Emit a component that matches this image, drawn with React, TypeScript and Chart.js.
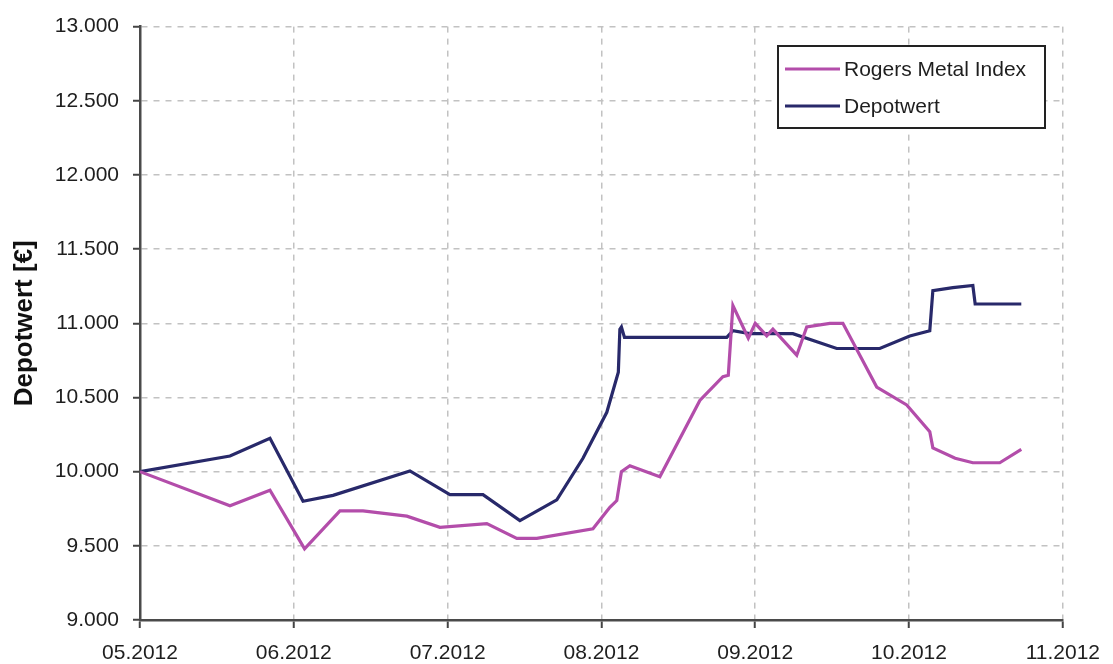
import React, { useEffect, useRef } from "react";
import { Chart, registerables } from "chart.js";

Chart.register(...registerables);

// x values are months elapsed since 05.2012
const xTickLabels = ["05.2012", "06.2012", "07.2012", "08.2012", "09.2012", "10.2012", "11.2012"];

const rogersX = [0, 0.585, 0.845, 1.07, 1.3, 1.45, 1.735, 1.95, 2.255, 2.45, 2.58, 2.945, 3.055, 3.1, 3.13, 3.185, 3.38, 3.64, 3.79, 3.825, 3.855, 3.955, 4.0, 4.075, 4.115, 4.27, 4.335, 4.485, 4.57, 4.79, 4.985, 5.135, 5.155, 5.3, 5.415, 5.59, 5.73];
const rogersY = [10000, 9770, 9875, 9480, 9735, 9735, 9700, 9625, 9650, 9550, 9550, 9615, 9760, 9805, 10000, 10040, 9965, 10480, 10640, 10650, 11120, 10900, 11000, 10915, 10960, 10785, 10975, 11000, 11000, 10570, 10450, 10270, 10160, 10090, 10060, 10060, 10150];

const depotX = [0, 0.585, 0.845, 1.06, 1.255, 1.755, 2.015, 2.23, 2.47, 2.71, 2.88, 3.035, 3.11, 3.12, 3.13, 3.15, 3.815, 3.855, 3.965, 4.245, 4.53, 4.81, 5.005, 5.135, 5.155, 5.285, 5.415, 5.43, 5.73];
const depotY = [10000, 10105, 10225, 9800, 9840, 10005, 9845, 9845, 9670, 9810, 10090, 10400, 10670, 10960, 10975, 10905, 10905, 10950, 10930, 10930, 10830, 10830, 10915, 10950, 11220, 11240, 11255, 11130, 11130];

const seriesNames = ["Rogers Metal Index", "Depotwert"];
const seriesColors = ["#b34daa", "#28296a"];
const yTitle = "Depotwert [€]";

const fmt = (v: number) => {
  const th = Math.floor(v / 1000);
  const rest = String(Math.round(v % 1000)).padStart(3, "0");
  return th + "." + rest;
};

const legendPlugin = {
  id: "boxLegend",
  afterDraw(chart: any) {
    const ctx = chart.ctx;
    ctx.save();
    const x0 = 778, y0 = 46, w = 267, h = 82;
    ctx.fillStyle = "#ffffff";
    ctx.fillRect(x0, y0, w, h);
    ctx.lineWidth = 2;
    ctx.strokeStyle = "#222";
    ctx.strokeRect(x0, y0, w, h);
    const rows = [69, 106];
    seriesNames.forEach((name, i) => {
      ctx.strokeStyle = seriesColors[i];
      ctx.lineWidth = 3;
      ctx.beginPath();
      ctx.moveTo(785, rows[i]);
      ctx.lineTo(840, rows[i]);
      ctx.stroke();
      ctx.fillStyle = "#1e1e1e";
      ctx.font = "21px 'Liberation Sans', Arial, sans-serif";
      ctx.textBaseline = "middle";
      ctx.textAlign = "left";
      ctx.fillText(name, 844, rows[i] + 1);
    });
    ctx.restore();
  },
};

export default function App() {
  const ref = useRef<HTMLCanvasElement>(null);
  useEffect(() => {
    if (!ref.current) return;
    const gridColor = "#c2c2c2";
    const chart = new Chart(ref.current, {
      type: "line",
      data: {
        datasets: [
          {
            label: seriesNames[0],
            data: rogersX.map((x, i) => ({ x, y: rogersY[i] })),
            borderColor: seriesColors[0],
            borderWidth: 3.2,
            pointRadius: 0,
            tension: 0,
          },
          {
            label: seriesNames[1],
            data: depotX.map((x, i) => ({ x, y: depotY[i] })),
            borderColor: seriesColors[1],
            borderWidth: 3.2,
            pointRadius: 0,
            tension: 0,
          },
        ],
      },
      options: {
        animation: false,
        responsive: false,
        layout: { padding: { top: 23, right: 49, left: 0, bottom: 0 } },
        plugins: { legend: { display: false }, tooltip: { enabled: false } },
        scales: {
          x: {
            type: "linear",
            min: 0,
            max: 6,
            afterFit: (s: any) => { s.height = 44; },
            afterBuildTicks: (s: any) => {
              s.ticks = xTickLabels.map((_, i) => ({ value: i }));
            },
            ticks: {
              callback: (v: any) => xTickLabels[Math.round(v)] ?? "",
              font: { family: "'Liberation Sans', Arial, sans-serif", size: 21 },
              color: "#1e1e1e",
              padding: 13,
              maxRotation: 0,
              autoSkip: false,
            },
            grid: {
              color: gridColor,
              lineWidth: 1.5,
              tickColor: "#444",
              tickWidth: 2,
              tickLength: 8,
            },
            border: { display: true, color: "#4a4a4a", width: 2.5, dash: [6, 6] },
          },
          y: {
            type: "linear",
            min: 9000,
            max: 13000,
            afterFit: (s: any) => { s.width = 140; },
            ticks: {
              stepSize: 500,
              callback: (v: any) => fmt(Number(v)),
              font: { family: "'Liberation Sans', Arial, sans-serif", size: 21 },
              color: "#1e1e1e",
              padding: 14,
            },
            grid: {
              color: gridColor,
              lineWidth: 1.5,
              tickColor: "#444",
              tickWidth: 2,
              tickLength: 7,
            },
            border: { display: true, color: "#4a4a4a", width: 2.5, dash: [6, 6] },
            title: {
              display: true,
              text: yTitle,
              color: "#111",
              font: { family: "'Liberation Sans', Arial, sans-serif", size: 26, weight: "bold" },
              padding: { top: 9, bottom: 0 },
            },
          },
        },
      },
      plugins: [legendPlugin],
    } as any);
    return () => chart.destroy();
  }, []);
  return (
    <div style={{ position: "absolute", left: 0, top: 0, width: 1113, height: 664, background: "#fff" }}>
      <canvas ref={ref} width={1113} height={664} style={{ display: "block" }} />
    </div>
  );
}
